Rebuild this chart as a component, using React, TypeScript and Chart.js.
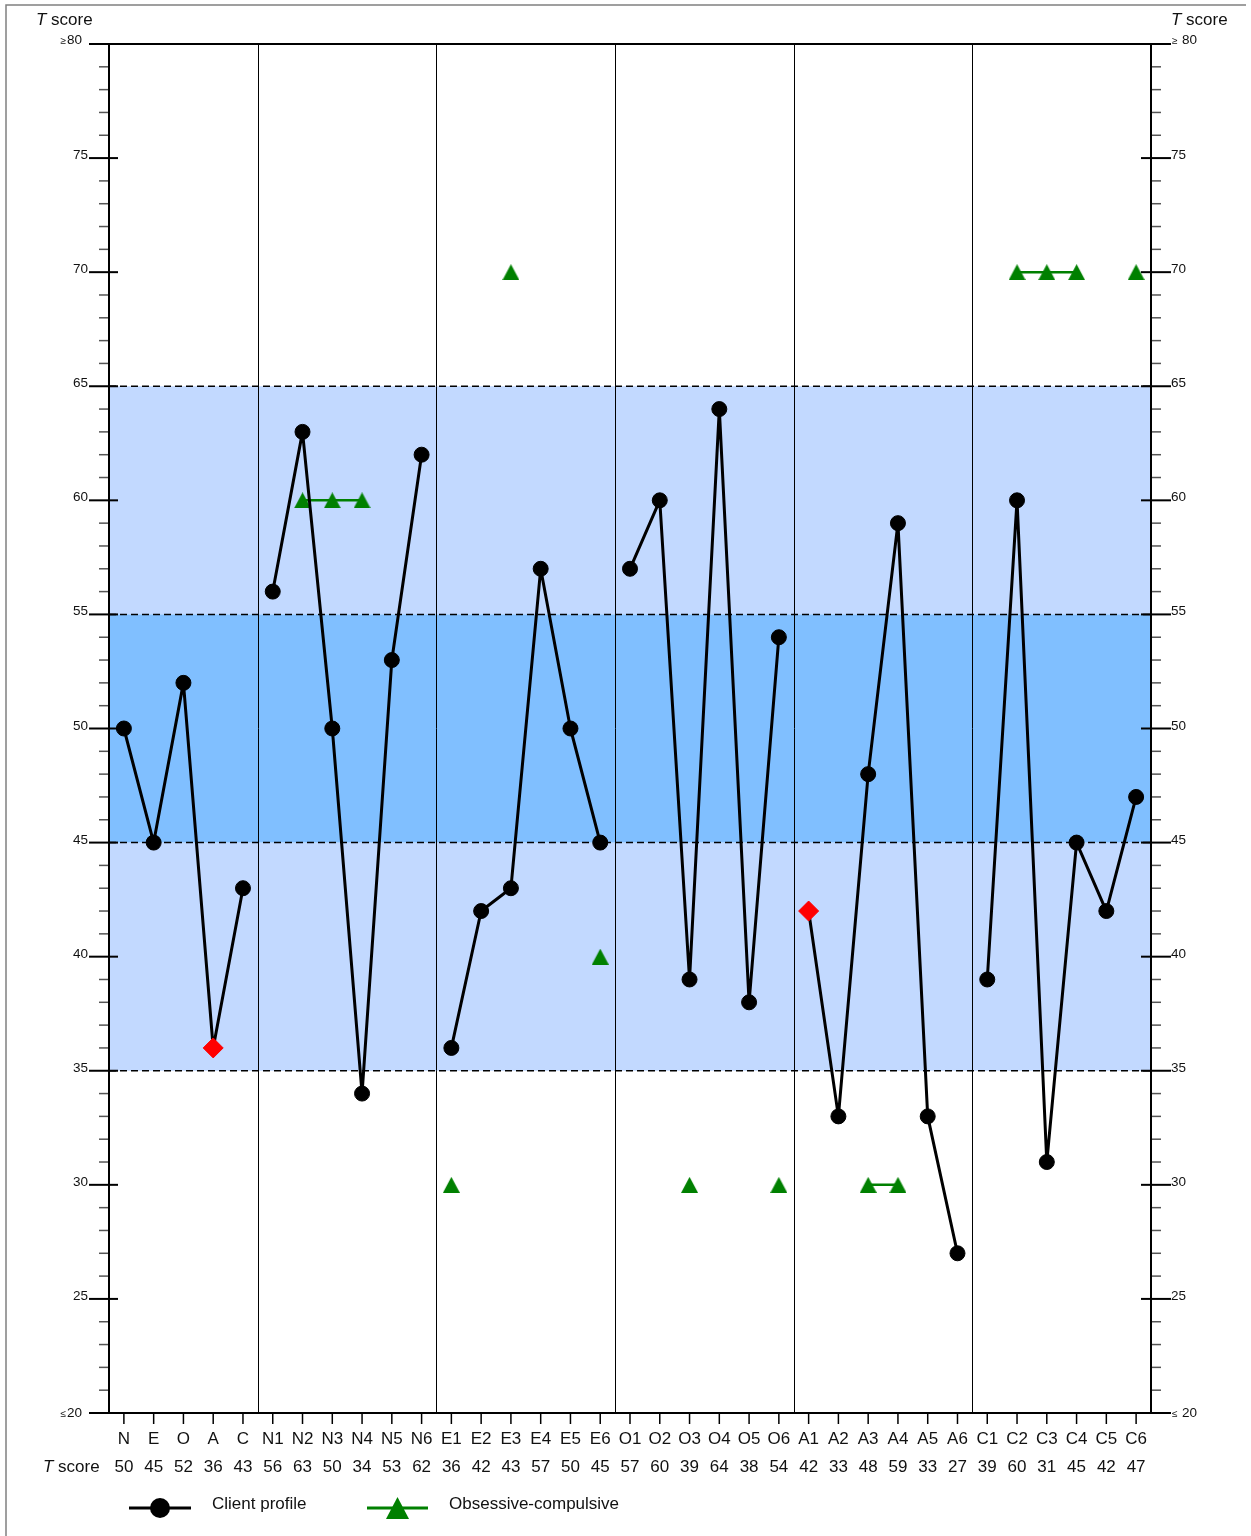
import React, { useEffect, useRef } from 'react';
import { Chart, registerables } from 'chart.js';

Chart.register(...registerables);

const categories = ['N', 'E', 'O', 'A', 'C', 'N1', 'N2', 'N3', 'N4', 'N5', 'N6', 'E1', 'E2', 'E3', 'E4', 'E5', 'E6', 'O1', 'O2', 'O3', 'O4', 'O5', 'O6', 'A1', 'A2', 'A3', 'A4', 'A5', 'A6', 'C1', 'C2', 'C3', 'C4', 'C5', 'C6'];
const clientProfile = [50, 45, 52, 36, 43, 56, 63, 50, 34, 53, 62, 36, 42, 43, 57, 50, 45, 57, 60, 39, 64, 38, 54, 42, 33, 48, 59, 33, 27, 39, 60, 31, 45, 42, 47];
const obsessiveCompulsive = [null, null, null, null, null, null, 60, 60, 60, null, null, 30, null, 70, null, null, 40, null, null, 30, null, null, 30, null, null, 30, 30, null, null, null, 70, 70, 70, null, 70];
const flaggedIndices = [3, 23];
const groupStarts = [0, 5, 11, 17, 23, 29];
const majorTicks = [20, 25, 30, 35, 40, 45, 50, 55, 60, 65, 70, 75, 80];
const bandEdges = [35, 45, 55, 65];
const Y_MIN = 20;
const Y_MAX = 80;

const FONT = '"Liberation Sans", Arial, sans-serif';
const LIGHT = 'rgb(194,217,255)';
const MID = 'rgb(128,191,255)';
const GREEN = '#008000';

function makeTriangle(w: number, h: number, color: string) {
  const c = document.createElement('canvas');
  c.width = w;
  c.height = h;
  const g = c.getContext('2d')!;
  g.fillStyle = color;
  g.beginPath();
  g.moveTo(w / 2, 0);
  g.lineTo(w, h);
  g.lineTo(0, h);
  g.closePath();
  g.fill();
  return c;
}

function line(ctx: CanvasRenderingContext2D, x1: number, y1: number, x2: number, y2: number) {
  ctx.beginPath();
  ctx.moveTo(x1, y1);
  ctx.lineTo(x2, y2);
  ctx.stroke();
}

const decor = {
  id: 'decor',
  beforeDatasetsDraw(chart: any) {
    const { ctx, chartArea: a, scales } = chart;
    const x = scales.x;
    const y = scales.y;
    const L = a.left, R = a.right, T = a.top, B = a.bottom;
    const yp = (v: number) => y.getPixelForValue(v);
    ctx.save();
    ctx.fillStyle = LIGHT;
    ctx.fillRect(L, yp(65), R - L, yp(55) - yp(65));
    ctx.fillRect(L, yp(45), R - L, yp(35) - yp(45));
    ctx.fillStyle = MID;
    ctx.fillRect(L, yp(55), R - L, yp(45) - yp(55));

    ctx.strokeStyle = '#000';
    ctx.lineWidth = 1;
    groupStarts.slice(1).forEach((gs) => {
      const px = Math.round((x.getPixelForValue(gs - 1) + x.getPixelForValue(gs)) / 2) + 0.5;
      line(ctx, px, T, px, B);
    });

    ctx.setLineDash([7, 4]);
    ctx.lineWidth = 1.5;
    bandEdges.forEach((v) => line(ctx, L, yp(v), R, yp(v)));
    ctx.setLineDash([]);

    ctx.strokeStyle = '#555';
    ctx.lineWidth = 1.5;
    for (let v = Y_MIN + 1; v < Y_MAX; v++) {
      if (v % 5 === 0) continue;
      const py = yp(v);
      line(ctx, L - 10, py, L, py);
      line(ctx, R, py, R + 10, py);
    }

    ctx.strokeStyle = '#000';
    ctx.lineWidth = 2;
    majorTicks.forEach((v) => {
      const py = yp(v);
      if (v === Y_MIN || v === Y_MAX) {
        line(ctx, L - 20, py, R + 20, py);
      } else {
        line(ctx, L - 20, py, L + 9, py);
        line(ctx, R - 10, py, R + 20, py);
      }
    });
    line(ctx, L, T, L, B);
    line(ctx, R, T, R, B);

    ctx.lineWidth = 1.5;
    categories.forEach((_, i) => {
      const px = x.getPixelForValue(i);
      line(ctx, px, B, px, B + 11);
    });
    ctx.restore();
  },
  afterDraw(chart: any) {
    const { ctx, chartArea: a, scales } = chart;
    const x = scales.x;
    const y = scales.y;
    const L = a.left, R = a.right;
    const yp = (v: number) => y.getPixelForValue(v);
    ctx.save();
    ctx.fillStyle = '#111';
    ctx.textBaseline = 'alphabetic';

    majorTicks.forEach((v) => {
      const py = yp(v);
      if (v === Y_MAX || v === Y_MIN) {
        const sym = v === Y_MAX ? '≥' : '≤';
        const base = v === Y_MAX ? py - 0.5 : py + 3.5;
        ctx.font = `13.5px ${FONT}`;
        ctx.textAlign = 'right';
        ctx.fillText(String(v), L - 27, base);
        ctx.font = `10px ${FONT}`;
        ctx.fillText(sym, L - 43, base);
        ctx.textAlign = 'left';
        ctx.fillText(sym, R + 21, base);
        ctx.font = `13.5px ${FONT}`;
        ctx.fillText(String(v), R + 31, base);
      } else {
        ctx.font = `13.5px ${FONT}`;
        ctx.textAlign = 'right';
        ctx.fillText(String(v), L - 21, py + 1);
        ctx.textAlign = 'left';
        ctx.fillText(String(v), R + 20, py + 1);
      }
    });

    const drawTScore = (px: number, py: number) => {
      ctx.textAlign = 'left';
      ctx.font = `italic 17px ${FONT}`;
      ctx.fillText('T', px, py);
      const w = ctx.measureText('T').width;
      ctx.font = `17px ${FONT}`;
      ctx.fillText(' score', px + w, py);
    };
    drawTScore(36, 25);
    drawTScore(1171, 25);

    ctx.font = `17px ${FONT}`;
    ctx.textAlign = 'center';
    categories.forEach((c, i) => {
      const px = x.getPixelForValue(i);
      ctx.fillText(c, px, 1444);
      ctx.fillText(String(clientProfile[i]), px, 1472);
    });
    drawTScore(43, 1472);

    ctx.strokeStyle = '#000';
    ctx.lineWidth = 3;
    line(ctx, 129, 1508, 191, 1508);
    ctx.fillStyle = '#000';
    ctx.beginPath();
    ctx.arc(160, 1508, 10, 0, Math.PI * 2);
    ctx.fill();
    ctx.strokeStyle = GREEN;
    line(ctx, 367, 1508, 428, 1508);
    ctx.fillStyle = GREEN;
    ctx.beginPath();
    ctx.moveTo(397.5, 1497);
    ctx.lineTo(409, 1519);
    ctx.lineTo(386, 1519);
    ctx.closePath();
    ctx.fill();
    ctx.fillStyle = '#111';
    ctx.font = `17px ${FONT}`;
    ctx.textAlign = 'left';
    ctx.textBaseline = 'middle';
    ctx.fillText('Client profile', 212, 1504);
    ctx.fillText('Obsessive-compulsive', 449, 1504);

    ctx.strokeStyle = '#808080';
    ctx.lineWidth = 1.5;
    ctx.beginPath();
    ctx.moveTo(6, 1536);
    ctx.lineTo(6, 5);
    ctx.lineTo(1246, 5);
    ctx.stroke();
    ctx.restore();
  },
};

export default function App() {
  const ref = useRef<HTMLCanvasElement | null>(null);
  useEffect(() => {
    if (!ref.current) return;
    const tri = makeTriangle(17, 16, GREEN);
    const chart = new Chart(ref.current, {
      type: 'line',
      data: {
        labels: categories,
        datasets: [
          {
            label: 'Client profile',
            data: clientProfile,
            borderColor: '#000',
            borderWidth: 3,
            borderJoinStyle: 'round',
            borderCapStyle: 'round',
            pointStyle: (c: any) => (flaggedIndices.includes(c.dataIndex) ? 'rectRot' : 'circle'),
            pointRadius: (c: any) => (flaggedIndices.includes(c.dataIndex) ? 10 : 7.5),
            pointBackgroundColor: (c: any) => (flaggedIndices.includes(c.dataIndex) ? '#ff0000' : '#000'),
            pointBorderColor: (c: any) => (flaggedIndices.includes(c.dataIndex) ? '#ff0000' : '#000'),
            pointBorderWidth: 1,
            segment: {
              borderColor: (c: any) => (groupStarts.includes(c.p1DataIndex) ? 'rgba(0,0,0,0)' : '#000'),
            },
            tension: 0,
            clip: false as any,
          },
          {
            label: 'Obsessive-compulsive',
            data: obsessiveCompulsive as any,
            borderColor: GREEN,
            borderWidth: 2.5,
            pointStyle: tri as any,
            pointRadius: 8,
            pointBackgroundColor: GREEN,
            pointBorderColor: GREEN,
            spanGaps: false,
            tension: 0,
            clip: false as any,
          },
        ],
      },
      options: {
        animation: false,
        responsive: false,
        events: [],
        layout: { padding: { left: 109, right: 100, top: 44, bottom: 123 } },
        plugins: { legend: { display: false }, tooltip: { enabled: false } },
        scales: {
          x: { type: 'category', offset: true, display: false },
          y: { type: 'linear', min: Y_MIN, max: Y_MAX, display: false },
        },
      },
      plugins: [decor],
    });
    return () => chart.destroy();
  }, []);
  return (
    <div style={{ position: 'absolute', left: 0, top: 0, width: 1251, height: 1536, background: '#fff' }}>
      <canvas ref={ref} width={1251} height={1536} style={{ width: 1251, height: 1536, display: 'block' }} />
    </div>
  );
}
